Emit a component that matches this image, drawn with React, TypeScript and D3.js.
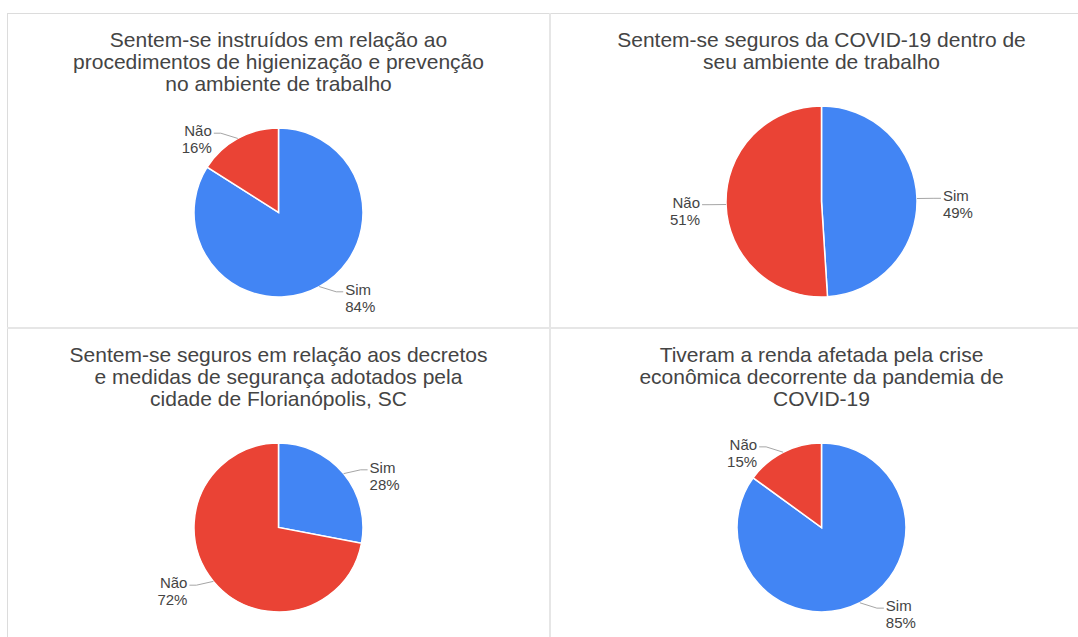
import { useEffect, useRef } from "react";
import * as d3 from "d3";

// Respostas (Sim / Não) de cada pergunta
const categories = ["Sim", "Não"];
const instruidos = [84, 16];
const segurosCovid = [49, 51];
const segurosDecretos = [28, 72];
const rendaAfetada = [85, 15];

const titleInstruidos = [
  "Sentem-se instruídos em relação ao",
  "procedimentos de higienização e prevenção",
  "no ambiente de trabalho",
];
const titleSegurosCovid = [
  "Sentem-se seguros da COVID-19 dentro de",
  "seu ambiente de trabalho",
];
const titleSegurosDecretos = [
  "Sentem-se seguros em relação aos decretos",
  "e medidas de segurança adotados pela",
  "cidade de Florianópolis, SC",
];
const titleRenda = [
  "Tiveram a renda afetada pela crise",
  "econômica decorrente da pandemia de",
  "COVID-19",
];

const charts = [
  { title: titleInstruidos, values: instruidos },
  { title: titleSegurosCovid, values: segurosCovid },
  { title: titleSegurosDecretos, values: segurosDecretos },
  { title: titleRenda, values: rendaAfetada },
];

const colors = ["#4285f4", "#ea4335"];

export default function App() {
  const svgRef = useRef<SVGSVGElement | null>(null);

  useEffect(() => {
    if (!svgRef.current) return;
    const svg = d3.select(svgRef.current);
    svg.selectAll("*").remove();

    const W = 1078;
    const H = 637;
    const left = 7;
    const top = 13;
    const panelW = 543;
    const panelH = 315;
    const font = "'Liberation Sans', Arial, sans-serif";

    // Grid borders
    const grid = svg.append("g");
    grid.append("line").attr("x1", left).attr("x2", W).attr("y1", top + 0.5).attr("y2", top + 0.5)
      .attr("stroke", "#dcdcdc").attr("stroke-width", 1);
    grid.append("line").attr("x1", left + 0.5).attr("x2", left + 0.5).attr("y1", top).attr("y2", H)
      .attr("stroke", "#dcdcdc").attr("stroke-width", 1);
    grid.append("line").attr("x1", left + panelW).attr("x2", left + panelW).attr("y1", top).attr("y2", H)
      .attr("stroke", "#e6e6e6").attr("stroke-width", 2);
    grid.append("line").attr("x1", left).attr("x2", W).attr("y1", top + panelH).attr("y2", top + panelH)
      .attr("stroke", "#e6e6e6").attr("stroke-width", 2);

    const pie = d3.pie<number>().sort(null).value(d => d);
    const pct = d3.format(".0%");

    charts.forEach((chart, i) => {
      const px = left + (i % 2) * panelW;
      const py = top + Math.floor(i / 2) * panelH;
      const g = svg.append("g");

      const cx = px + panelW / 2;
      const firstBaseline = py + 34;
      const lineH = 22;

      // Title
      const title = g.append("text")
        .attr("text-anchor", "middle")
        .attr("font-family", font)
        .attr("font-size", 21)
        .attr("fill", "#444");
      chart.title.forEach((line, k) => {
        title.append("tspan").attr("x", cx).attr("y", firstBaseline + k * lineH).text(line);
      });

      // Pie geometry
      const pieTop = firstBaseline + (chart.title.length - 1) * lineH + 37;
      const pieBottom = py + 284;
      const r = (pieBottom - pieTop) / 2;
      const cy = pieTop + r;

      const arcs = pie(chart.values);
      const total = d3.sum(chart.values);
      const arc = d3.arc<d3.PieArcDatum<number>>().innerRadius(0).outerRadius(r);

      const pg = g.append("g").attr("transform", `translate(${cx},${cy})`);
      pg.selectAll("path")
        .data(arcs)
        .enter()
        .append("path")
        .attr("d", arc)
        .attr("fill", (d, k) => colors[k])
        .attr("stroke", "#fff")
        .attr("stroke-width", 1.5);

      // Labels with leader lines
      arcs.forEach((d, k) => {
        const a = (d.startAngle + d.endAngle) / 2;
        const s = Math.sin(a);
        const c = Math.cos(a);
        const side = s < 0 ? -1 : 1;
        const ex = r * s;
        const ey = -r * c;
        const lx = ex + side * 24;
        const ly = ey - c * 6;

        pg.append("path")
          .attr("d", d3.line()([[ex, ey], [lx - side * 7, ly], [lx, ly]]))
          .attr("fill", "none")
          .attr("stroke", "#a6a6a6")
          .attr("stroke-width", 1);

        const t = pg.append("text")
          .attr("text-anchor", side < 0 ? "end" : "start")
          .attr("font-family", font)
          .attr("font-size", 15)
          .attr("fill", "#444");
        t.append("tspan").attr("x", lx + side * 2).attr("y", ly + 3).text(categories[k]);
        t.append("tspan").attr("x", lx + side * 2).attr("y", ly + 20).text(pct(d.data / total));
      });
    });
  }, []);

  return (
    <svg
      ref={svgRef}
      width={1078}
      height={637}
      style={{ position: "absolute", left: 0, top: 0, background: "#fff" }}
    />
  );
}
